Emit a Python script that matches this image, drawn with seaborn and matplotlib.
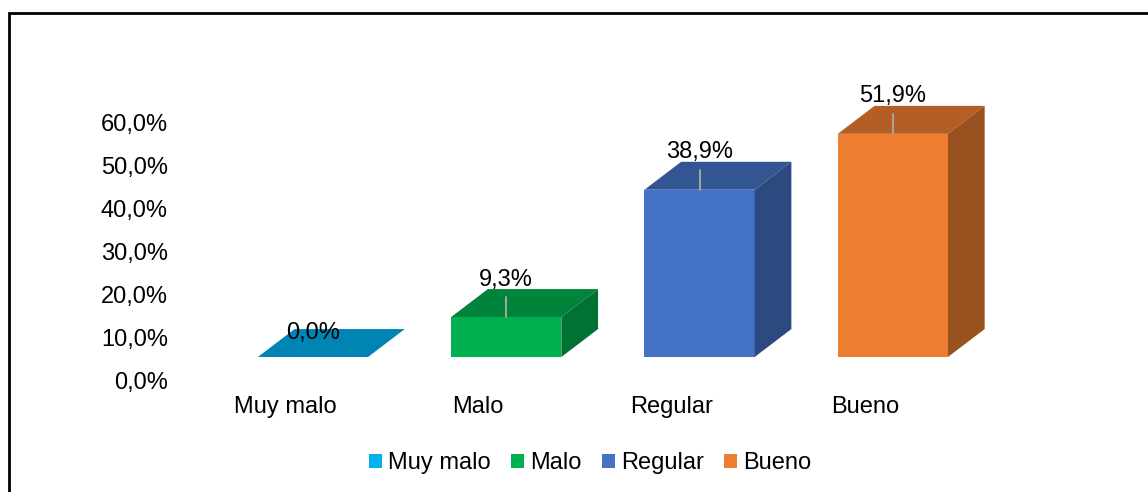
"""
Distribución porcentual por categoría: barras con efecto 3D tipo Excel.
"""

import matplotlib.colors as mcolors
import matplotlib.pyplot as plt
import numpy as np
import pandas as pd
import seaborn as sns
from matplotlib.patches import Patch, Polygon, Rectangle

categories = ["Muy malo", "Malo", "Regular", "Bueno"]
percentages = [0.0, 9.3, 38.9, 51.9]
colors = ["#00B0F0", "#00B050", "#4472C4", "#ED7D31"]
tick_values = [0, 10, 20, 30, 40, 50, 60]

sns.set_theme(style="white")
plt.rcParams["font.family"] = ["Liberation Sans", "DejaVu Sans"]
plt.rcParams["text.color"] = "black"

FONT = 17
BAR_WIDTH = 0.57
DEPTH_X = 0.19      # box depth, category units
DEPTH_Y = 6.5       # box depth, percentage points
AXIS_SHIFT = 5.35   # value axis drawn lower than the bar fronts (perspective)
LABEL_SHIFT = 0.145  # category labels sit left of the bar fronts
LEADER = 4.7


def shade(color, factor):
    r, g, b = mcolors.to_rgb(color)
    return (r * factor, g * factor, b * factor)


def pct(v):
    return f"{v:.1f}".replace(".", ",") + "%"


df = pd.DataFrame({"categoria": categories, "porcentaje": percentages})

fig = plt.figure(figsize=(11.48, 4.92), dpi=100)
ax = fig.add_axes([190 / 1148, 1 - 385 / 492, 820 / 1148, 325 / 492])
sns.barplot(
    data=df,
    x="categoria",
    y="porcentaje",
    hue="categoria",
    palette=colors,
    width=BAR_WIDTH,
    saturation=1,
    legend=False,
    ax=ax,
)

bars = list(ax.patches)
for bar, color, val in zip(bars, colors, percentages):
    bar.set_edgecolor("none")
    x0 = bar.get_x()
    x1 = x0 + bar.get_width()
    top = bar.get_height()
    cx = x0 + bar.get_width() / 2
    top_face = [(x0, top), (x1, top), (x1 + DEPTH_X, top + DEPTH_Y), (x0 + DEPTH_X, top + DEPTH_Y)]
    ax.add_patch(Polygon(top_face, closed=True, facecolor=shade(color, 0.75), edgecolor="none", zorder=2))
    if top > 0:
        side_face = [(x1, 0), (x1 + DEPTH_X, DEPTH_Y), (x1 + DEPTH_X, top + DEPTH_Y), (x1, top)]
        ax.add_patch(Polygon(side_face, closed=True, facecolor=shade(color, 0.65), edgecolor="none", zorder=2))
        ax.plot([cx, cx], [top, top + LEADER], color="#A6A6A6", lw=1.4, zorder=3)
    ax.annotate(
        pct(val),
        xy=(cx, top),
        xytext=(0, 27 if top > 0 else 17),
        textcoords="offset points",
        ha="center",
        va="center",
        fontsize=FONT,
        color="black",
        zorder=4,
    )

ax.set_xlim(-0.636, 3.606)
ax.set_ylim(-6.51, 69.07)
ax.set_yticks([t - AXIS_SHIFT for t in tick_values])
ax.set_yticklabels([f"{t},0%" for t in tick_values])
ax.set_xticks(np.arange(len(categories)) - LABEL_SHIFT)
ax.set_xticklabels(categories)
ax.tick_params(axis="y", length=0, labelsize=FONT, pad=16, labelcolor="black")
ax.tick_params(axis="x", length=0, labelsize=FONT, pad=8, labelcolor="black")
ax.set_xlabel("")
ax.set_ylabel("")
sns.despine(ax=ax, left=True, bottom=True)

handles = [Patch(facecolor=c, edgecolor="none", label=l) for c, l in zip(colors, categories)]
fig.legend(
    handles=handles,
    loc="center",
    bbox_to_anchor=(0.514, 0.059),
    ncol=4,
    frameon=False,
    fontsize=FONT,
    labelcolor="black",
    handlelength=0.55,
    handleheight=0.55,
    handletextpad=0.26,
    columnspacing=0.85,
)

# chart border (runs off the right and bottom edges like the source)
fig.add_artist(
    Rectangle(
        (8.5 / 1148, -0.1), 1.2, 1.1 - 12.5 / 492,
        transform=fig.transFigure, fill=False, edgecolor="black", lw=2.0,
    )
)

fig.savefig("out.png", dpi=100)
plt.close(fig)
